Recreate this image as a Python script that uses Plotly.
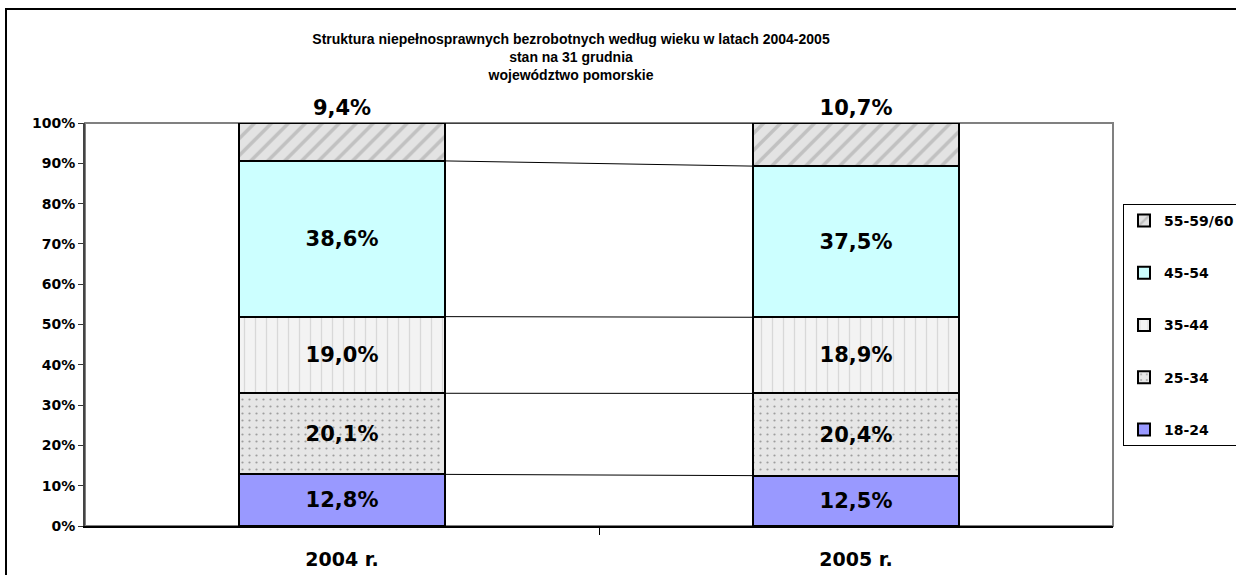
import numpy as np
import plotly.graph_objects as go

categories = ["2004 r.", "2005 r."]
series_names = ["18-24", "25-34", "35-44", "45-54", "55-59/60"]
v_18_24 = [12.8, 12.5]
v_25_34 = [20.1, 20.4]
v_35_44 = [19.0, 18.9]
v_45_54 = [38.6, 37.5]
v_55_60 = [9.4, 10.7]
y_ticks = [0, 10, 20, 30, 40, 50, 60, 70, 80, 90, 100]
y_ticktext = [f"{t}%" for t in y_ticks]

values = [v_18_24, v_25_34, v_35_44, v_45_54, v_55_60]
xpos = [0, 1]
FONT = "DejaVu Sans"
TFONT = "Liberation Sans"

W, H = 1236, 575
PL, PR, PT, PB = 85, 1113, 123, 526
PW, PH = PR - PL, PB - PT

styles = [
    dict(color="#9999FF", pattern=dict(shape="")),
    dict(color="#E6E6E6", pattern=dict(shape=".", fgcolor="#555555", bgcolor="#E6E6E6", size=7, solidity=0.08)),
    dict(color="#F3F3F3", pattern=dict(shape="|", fgcolor="#BDBDBD", bgcolor="#F3F3F3", size=11, solidity=0.12)),
    dict(color="#CCFFFF", pattern=dict(shape="")),
    dict(color="#E3E3E3", pattern=dict(shape="/", fgcolor="#A0A0A0", bgcolor="#E3E3E3", size=12, solidity=0.3)),
]

def fmt(v):
    return f"{v:.1f}%".replace(".", ",")

fig = go.Figure()

# series lines (cumulative normalized boundaries) connecting bar edges
arr = np.array(values)
norm = arr / arr.sum(axis=0) * 100
cum = np.cumsum(norm, axis=0)
bar_w = 0.4
for row in cum:
    fig.add_trace(go.Scatter(x=[xpos[0] + bar_w / 2, xpos[1] - bar_w / 2], y=list(row),
                             mode="lines", line=dict(color="#000000", width=1),
                             showlegend=False, hoverinfo="skip"))

n = len(series_names)
for i, (name, vals, st) in enumerate(zip(series_names, values, styles)):
    top = i == n - 1
    fig.add_trace(go.Bar(
        x=xpos, y=vals, name=name, width=bar_w,
        text=[fmt(v) for v in vals],
        textposition="outside" if top else "inside",
        insidetextanchor="middle",
        textfont=dict(family=FONT, size=21, color="#000000", weight="bold"),
        constraintext="none",
        cliponaxis=False,
        legendgroup=name,
        legendrank=n - i,
        marker=dict(color=st["color"], pattern=st["pattern"], line=dict(color="#000000", width=2)),
    ))

fig.update_layout(
    width=W, height=H,
    barmode="stack", barnorm="percent",
    plot_bgcolor="#FFFFFF", paper_bgcolor="#FFFFFF",
    margin=dict(l=PL, r=W - PR, t=PT, b=H - PB, autoexpand=False),
    font=dict(family=FONT, color="#000000"),
    title=dict(
        text="Struktura niepełnosprawnych bezrobotnych według wieku w latach 2004-2005<br>stan na 31 grudnia<br>województwo pomorskie",
        x=571 / W, xanchor="center", y=1 - 44 / H, yanchor="top",
        font=dict(family=TFONT, size=14, color="#000000", weight="bold"),
    ),
    xaxis=dict(
        range=[-0.5, 1.5], tickmode="array", tickvals=xpos, ticktext=categories,
        ticks="", showline=True, linecolor="#000000", linewidth=2, showgrid=False,
        zeroline=False, ticklabelstandoff=15,
        tickfont=dict(family=FONT, size=19, color="#000000", weight="bold"),
        minor=dict(tickmode="array", tickvals=[0.5], ticks="outside", ticklen=7, tickcolor="#000000", tickwidth=1),
    ),
    yaxis=dict(
        range=[0, 100], tickmode="array", tickvals=y_ticks, ticktext=y_ticktext,
        ticks="outside", ticklen=5, tickcolor="#333333", showline=True,
        linecolor="#444444", linewidth=2, showgrid=False, zeroline=False,
        tickfont=dict(family=FONT, size=14, color="#000000", weight="bold"),
    ),
    legend=dict(
        x=(1123 - PL) / PW, xanchor="left", y=(PB - 204) / PH, yanchor="top",
        traceorder="grouped", tracegroupgap=31,
        bordercolor="#000000", borderwidth=1, bgcolor="#FFFFFF",
        font=dict(family=FONT, size=14, color="#000000", weight="bold"),
        itemwidth=30,
    ),
    shapes=[
        dict(type="rect", xref="paper", yref="paper", x0=0, x1=1, y0=0, y1=1,
             line=dict(color="#808080", width=2), layer="below"),
        dict(type="rect", xref="paper", yref="paper",
             x0=(6 - PL) / PW, x1=1.3, y0=(PB - 600) / PH, y1=(PB - 9) / PH,
             line=dict(color="#000000", width=2), layer="below"),
    ],
)

fig.write_html("out.html", config={"displayModeBar": False},
               post_script="document.body.style.margin='0px';")
